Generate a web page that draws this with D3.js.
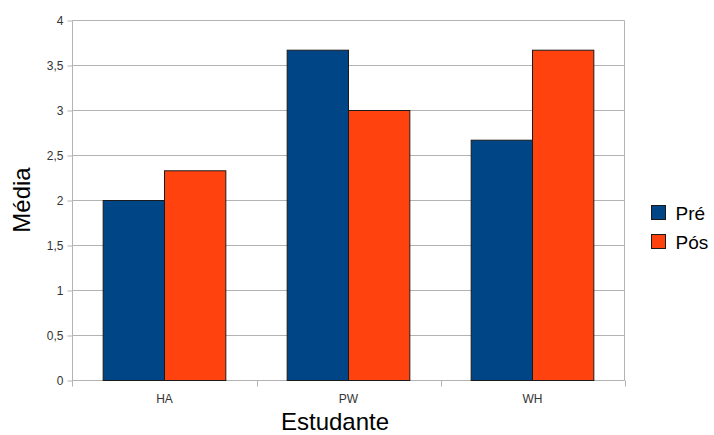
<!DOCTYPE html>
<html>
<head>
<meta charset="utf-8">
<script src="https://cdn.jsdelivr.net/npm/d3@7"></script>
<style>
  html, body { margin: 0; padding: 0; background: #fff; }
  text { font-family: "Liberation Sans", Arial, sans-serif; }
</style>
</head>
<body>
<svg id="chart" width="714" height="435"></svg>
<script>
// Mean scores per student, before and after
const students = ["HA", "PW", "WH"];
const seriesNames = ["Pré", "Pós"];
const preValues = [2, 3.67, 2.67];
const posValues = [2.33, 3, 3.67];
const yTicks = [0, 0.5, 1, 1.5, 2, 2.5, 3, 3.5, 4];
const seriesColors = ["#004586", "#ff420e"];

const svg = d3.select("#chart");
const plotLeft = 72.5, plotRight = 624.5, plotTop = 20.5, plotBottom = 380.5;

const x = d3.scaleBand().domain(students).range([plotLeft, plotRight]);
const inner = d3.scaleBand().domain(seriesNames)
  .range([x.bandwidth() / 6, x.bandwidth() * 5 / 6]);
const y = d3.scaleLinear().domain([0, 4]).range([plotBottom, plotTop]);

const fmt = v => String(v).replace(".", ",");

// horizontal grid lines
svg.append("g").selectAll("line").data(yTicks).join("line")
  .attr("x1", plotLeft).attr("x2", plotRight)
  .attr("y1", d => y(d)).attr("y2", d => y(d))
  .attr("stroke", "#b3b3b3").attr("stroke-width", 1);

// right border
svg.append("line").attr("x1", plotRight).attr("x2", plotRight)
  .attr("y1", plotTop).attr("y2", plotBottom).attr("stroke", "#b3b3b3");

// y axis
const yAxis = d3.axisLeft(y).tickValues(yTicks).tickFormat(fmt).tickSize(5).tickPadding(4);
const gy = svg.append("g").attr("transform", `translate(${plotLeft},0)`).call(yAxis);
gy.select(".domain").attr("stroke", "#b3b3b3").attr("d", `M0,${plotTop}V${plotBottom + 6}`);
gy.selectAll(".tick line").attr("stroke", "#b3b3b3");
gy.selectAll(".tick text").attr("fill", "#333").style("font-size", "12px");

// x axis with tick marks at category boundaries
const gx = svg.append("g").attr("transform", `translate(0,${plotBottom})`);
gx.append("line").attr("x1", plotLeft).attr("x2", plotRight).attr("y1", 0).attr("y2", 0)
  .attr("stroke", "#b3b3b3");
const bounds = students.map(s => x(s)).concat([plotRight]);
gx.selectAll("line.b").data(bounds.slice(1)).join("line").attr("class", "b")
  .attr("x1", d => Math.round(d) + 0.5).attr("x2", d => Math.round(d) + 0.5)
  .attr("y1", 0).attr("y2", 6).attr("stroke", "#b3b3b3");
gx.selectAll("text").data(students).join("text")
  .attr("x", d => x(d) + x.bandwidth() / 2).attr("y", 22)
  .attr("text-anchor", "middle").attr("fill", "#333").style("font-size", "12px")
  .text(d => d);

// bars
const rows = students.map((s, i) => ({ s, vals: [preValues[i], posValues[i]] }));
const groups = svg.append("g").selectAll("g").data(rows).join("g")
  .attr("transform", d => `translate(${x(d.s)},0)`);
groups.selectAll("rect").data(d => d.vals.map((v, j) => ({ v, name: seriesNames[j], j })))
  .join("rect")
  .attr("x", d => inner(d.name))
  .attr("width", inner.bandwidth())
  .attr("y", d => y(d.v))
  .attr("height", d => y(0) - y(d.v))
  .attr("fill", d => seriesColors[d.j])
  .attr("stroke", "#1a1a1a").attr("stroke-width", 1);

// axis titles
svg.append("text").attr("x", 335).attr("y", 430).attr("text-anchor", "middle")
  .style("font-size", "24px").attr("fill", "#000").text("Estudante");
svg.append("text").attr("transform", "translate(30,200) rotate(-90)")
  .attr("text-anchor", "middle").style("font-size", "24px").attr("fill", "#000").text("Média");

// legend
const legend = svg.append("g").selectAll("g").data(seriesNames).join("g")
  .attr("transform", (d, i) => `translate(651.5,${205.5 + i * 29})`);
legend.append("rect").attr("width", 14).attr("height", 14)
  .attr("fill", (d, i) => seriesColors[i]).attr("stroke", "#1a1a1a");
legend.append("text").attr("x", 24).attr("y", 14)
  .style("font-size", "19px").attr("fill", "#000").text(d => d);
</script>
</body>
</html>
